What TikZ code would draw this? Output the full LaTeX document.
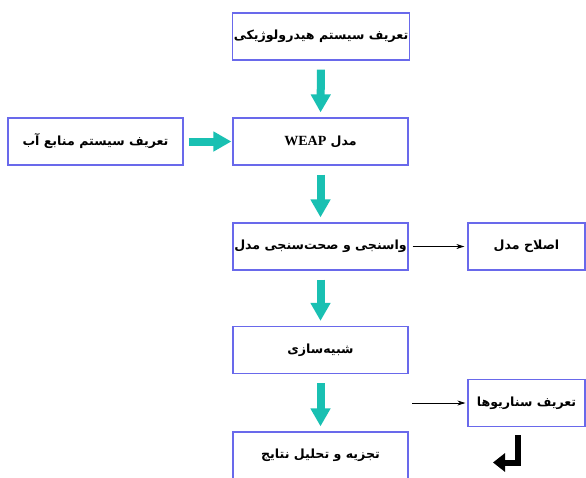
\documentclass[tikz,border=0pt]{standalone}
\usepackage{fontspec}
\usetikzlibrary{arrows.meta}
\TeXXeTstate=1
\newfontfamily\farsi[Script=Arabic]{DejaVu Sans}
\newfontfamily\latin{Liberation Serif}
\definecolor{boxblue}{RGB}{105,105,235}
\definecolor{flowteal}{RGB}{25,192,178}

\begin{document}
\begin{tikzpicture}[x=1pt, y=-1pt,
every node/.style={draw=boxblue, line width=1.2pt, minimum height=47pt,
    inner sep=1pt, font=\farsi\bfseries\fontsize{12.6}{14}\selectfont
    },
wide/.style={minimum width=175pt},
narrow/.style={minimum width=117pt},
flow/.style={draw=flowteal, line width=8pt, -{Triangle[width=19pt,length=18pt]},
    shorten <=9pt, shorten >=5pt},
thin/.style={draw=black, line width=0.8pt, -{Stealth[length=8pt,width=5pt]}}
]
\useasboundingbox (0,0) rectangle (586,477);

\node[wide]   (hydro)  at (321,36.5)  {\beginR تعریف سیستم هیدرولوژیکی\endR};
\node[wide]   (water)  at (95.5,141.5) {\beginR تعریف سیستم منابع آب\endR};
\node[wide]   (weap)   at (320.5,141.5) {\beginR مدل \beginL{\latin\fontsize{14}{16}\selectfont WEAP}\endL\endR};
\node[wide]   (calib)  at (320.5,246.5) {\beginR واسنجی و صحت^^^^200cسنجی مدل\endR};
\node[narrow] (fix)    at (526.5,246.5) {\beginR اصلاح مدل\endR};
\node[wide]   (sim)    at (320.5,350) {\beginR شبیه^^^^200cسازی\endR};
\node[narrow] (scen)   at (526.5,403) {\beginR تعریف سناریوها\endR};
\node[wide]   (result) at (320.5,455.5) {\beginR تجزیه و تحلیل نتایج\endR};

\coordinate (scenfrom) at (412,403);
\coordinate (bendtop)  at (518,435);
\coordinate (bendmid)  at (518,462.5);
\coordinate (bendtip)  at (493,462.5);

\foreach \i/\j in {hydro/weap, weap/calib, calib/sim, sim/result}
    \draw [flow] (\i.south) -- (\j.north);
\draw [flow, shorten <=5pt, shorten >=1pt] (water.east) -- (weap.west);

\draw [thin, shorten <=4pt, shorten >=3pt] (calib.east) -- (fix.west);
\draw [thin, shorten >=2pt] (scenfrom) -- (scen.west);

\draw [line width=6pt, -{Triangle[width=18pt,length=12pt]}] (bendtop) -- (bendmid) -- (bendtip);

\end{tikzpicture}
\end{document}
